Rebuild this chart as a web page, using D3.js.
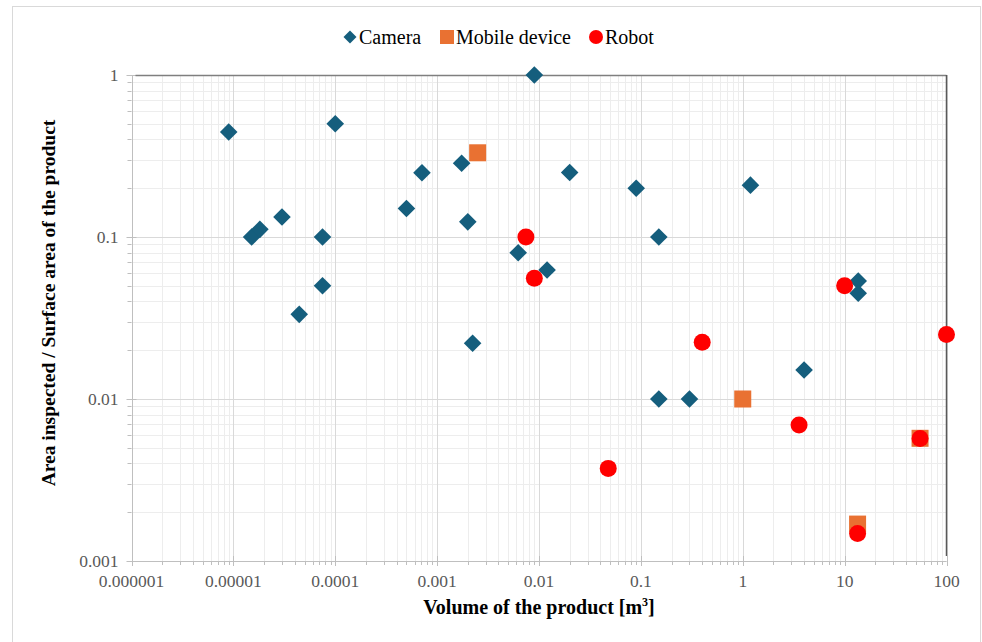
<!DOCTYPE html>
<html>
<head>
<meta charset="utf-8">
<script src="https://cdn.jsdelivr.net/npm/d3@7"></script>
<style>
  body { margin: 0; background: #fff; }
  svg { display: block; font-family: "Liberation Serif", "Times New Roman", serif; }
</style>
</head>
<body>
<svg id="chart"></svg>
<script>
// values
const cameraX = [0.000009, 0.0001, 0.0000151, 0.0000182, 0.00003, 0.000075, 0.000075, 0.0000443,
  0.0005, 0.00071, 0.00174, 0.002, 0.009, 0.02, 0.09, 0.15, 0.00625, 0.012, 0.00223,
  0.15, 0.3, 1.19, 13.6, 13.6, 4.0]
const cameraY = [0.445, 0.5, 0.1, 0.1115, 0.133, 0.1, 0.05, 0.0333,
  0.15, 0.249, 0.285, 0.124, 1, 0.25, 0.2, 0.1, 0.08, 0.0625, 0.0221,
  0.01, 0.01, 0.209, 0.0535, 0.045, 0.0151]

const mobileX = [0.0025, 1, 13.4, 55]
const mobileY = [0.331, 0.01, 0.00169, 0.00572]

const robotX = [0.00744, 0.009, 0.4, 0.0478, 3.57, 10, 100, 55, 13.4]
const robotY = [0.1, 0.0556, 0.0224, 0.00373, 0.0069, 0.05, 0.025, 0.0057, 0.00148]

const xTicks = [0.000001, 0.00001, 0.0001, 0.001, 0.01, 0.1, 1, 10, 100]
const xTickLabels = ["0.000001", "0.00001", "0.0001", "0.001", "0.01", "0.1", "1", "10", "100"]
const yTicks = [0.001, 0.01, 0.1, 1]
const yTickLabels = ["0.001", "0.01", "0.1", "1"]

const seriesNames = ["Camera", "Mobile device", "Robot"]
const seriesColors = ["#155E7D", "#E97132", "#FF0000"]

var width = 982
var height = 642
var margin = { top: 75, right: 36, bottom: 81, left: 131.5 }

var svg = d3.select('#chart')
    .attr('width', width)
    .attr('height', height)

// outer chart border
svg.append('rect')
    .attr('x', 12.5).attr('y', 6.5)
    .attr('width', 968).attr('height', 640)
    .attr('fill', 'none')
    .attr('stroke', '#d9d9d9')

var x_scale = d3.scaleLog()
    .domain([xTicks[0], xTicks[xTicks.length - 1]])
    .range([margin.left, width - margin.right + 0.5])

var y_scale = d3.scaleLog()
    .domain([yTicks[0], yTicks[yTicks.length - 1]])
    .range([height - margin.bottom, margin.top])

// minor values (2..9 of each decade)
var xMinor = []
for (let i = 0; i < xTicks.length - 1; i++) {
    for (let k = 2; k <= 9; k++) xMinor.push(xTicks[i] * k)
}
var yMinor = []
for (let i = 0; i < yTicks.length - 1; i++) {
    for (let k = 2; k <= 9; k++) yMinor.push(yTicks[i] * k)
}

var grid = svg.append('g')
var x0 = x_scale.range()[0], x1 = x_scale.range()[1]
var y0 = y_scale.range()[0], y1 = y_scale.range()[1]

grid.selectAll('.xminor').data(xMinor).enter().append('line')
    .attr('x1', d => Math.round(x_scale(d)) + 0.5).attr('x2', d => Math.round(x_scale(d)) + 0.5)
    .attr('y1', y1).attr('y2', y0)
    .attr('stroke', '#ededed')
grid.selectAll('.yminor').data(yMinor).enter().append('line')
    .attr('y1', d => Math.round(y_scale(d)) + 0.5).attr('y2', d => Math.round(y_scale(d)) + 0.5)
    .attr('x1', x0).attr('x2', x1)
    .attr('stroke', '#ededed')
grid.selectAll('.xmajor').data(xTicks).enter().append('line')
    .attr('x1', d => Math.round(x_scale(d)) + 0.5).attr('x2', d => Math.round(x_scale(d)) + 0.5)
    .attr('y1', y1).attr('y2', y0)
    .attr('stroke', '#d9d9d9')
grid.selectAll('.ymajor').data(yTicks).enter().append('line')
    .attr('y1', d => Math.round(y_scale(d)) + 0.5).attr('y2', d => Math.round(y_scale(d)) + 0.5)
    .attr('x1', x0).attr('x2', x1)
    .attr('stroke', '#d9d9d9')

// axes: minor ticks outside, major ticks crossing
var axisColor = '#bfbfbf'
var xAxisG = svg.append('g')
xAxisG.append('line')
    .attr('x1', x0).attr('x2', x1)
    .attr('y1', Math.round(y0) + 0.5).attr('y2', Math.round(y0) + 0.5)
    .attr('stroke', axisColor)
xAxisG.selectAll('.xmt').data(xMinor).enter().append('line')
    .attr('x1', d => Math.round(x_scale(d)) + 0.5).attr('x2', d => Math.round(x_scale(d)) + 0.5)
    .attr('y1', y0).attr('y2', y0 + 4)
    .attr('stroke', axisColor)
xAxisG.selectAll('.xMt').data(xTicks).enter().append('line')
    .attr('x1', d => Math.round(x_scale(d)) + 0.5).attr('x2', d => Math.round(x_scale(d)) + 0.5)
    .attr('y1', y0 - 5).attr('y2', y0 + 5)
    .attr('stroke', axisColor)
xAxisG.selectAll('.xlab').data(xTicks).enter().append('text')
    .attr('x', d => x_scale(d))
    .attr('y', y0 + 26)
    .attr('text-anchor', 'middle')
    .attr('font-size', 17.5)
    .attr('fill', '#595959')
    .text((d, i) => xTickLabels[i])

var yAxisG = svg.append('g')
yAxisG.append('line')
    .attr('x1', Math.round(x0) + 0.5).attr('x2', Math.round(x0) + 0.5)
    .attr('y1', y1).attr('y2', y0)
    .attr('stroke', axisColor)
yAxisG.selectAll('.ymt').data(yMinor).enter().append('line')
    .attr('y1', d => Math.round(y_scale(d)) + 0.5).attr('y2', d => Math.round(y_scale(d)) + 0.5)
    .attr('x1', x0 - 4).attr('x2', x0)
    .attr('stroke', axisColor)
yAxisG.selectAll('.yMt').data(yTicks).enter().append('line')
    .attr('y1', d => Math.round(y_scale(d)) + 0.5).attr('y2', d => Math.round(y_scale(d)) + 0.5)
    .attr('x1', x0 - 5).attr('x2', x0 + 5)
    .attr('stroke', axisColor)
yAxisG.selectAll('.ylab').data(yTicks).enter().append('text')
    .attr('x', x0 - 13)
    .attr('y', d => y_scale(d))
    .attr('dy', '0.35em')
    .attr('text-anchor', 'end')
    .attr('font-size', 17.5)
    .attr('fill', '#595959')
    .text((d, i) => yTickLabels[i])

// top and right border of plot area (dark)
svg.append('line')
    .attr('x1', x0 + 4).attr('x2', x1)
    .attr('y1', Math.round(y1) + 0.5).attr('y2', Math.round(y1) + 0.5)
    .attr('stroke', '#7f7f7f').attr('stroke-width', 1.5)
svg.append('line')
    .attr('x1', Math.round(x1) - 0.5).attr('x2', Math.round(x1) - 0.5)
    .attr('y1', y1).attr('y2', y0 - 5)
    .attr('stroke', '#595959').attr('stroke-width', 1.5)

// axis titles
var xTitle = svg.append('text')
    .attr('x', (x0 + x1) / 2)
    .attr('y', 614)
    .attr('text-anchor', 'middle')
    .attr('font-size', 20)
    .attr('font-weight', 'bold')
    .attr('fill', '#000')
xTitle.append('tspan').text('Volume of the product [m')
xTitle.append('tspan').attr('font-size', 12).attr('dy', -8).text('3')
xTitle.append('tspan').attr('dy', 8).text(']')

svg.append('text')
    .attr('transform', 'translate(55,' + ((y0 + y1) / 2 - 15) + ') rotate(-90)')
    .attr('text-anchor', 'middle')
    .attr('font-size', 19.5)
    .attr('font-weight', 'bold')
    .attr('fill', '#000')
    .text('Area inspected / Surface area of the product')

// markers
var plot = svg.append('g')
var diamond = 8.8
plot.selectAll('.cam').data(cameraX).enter().append('path')
    .attr('d', (d, i) => {
        let cx = x_scale(d), cy = y_scale(cameraY[i])
        return `M${cx},${cy - diamond}L${cx + diamond},${cy}L${cx},${cy + diamond}L${cx - diamond},${cy}Z`
    })
    .attr('fill', seriesColors[0])

var sq = 17
plot.selectAll('.mob').data(mobileX).enter().append('rect')
    .attr('x', d => x_scale(d) - sq / 2)
    .attr('y', (d, i) => y_scale(mobileY[i]) - sq / 2)
    .attr('width', sq).attr('height', sq)
    .attr('fill', seriesColors[1])

plot.selectAll('.rob').data(robotX).enter().append('circle')
    .attr('cx', d => x_scale(d))
    .attr('cy', (d, i) => y_scale(robotY[i]))
    .attr('r', 8.5)
    .attr('fill', seriesColors[2])

// legend
var legend = svg.append('g').attr('font-size', 20).attr('fill', '#000')
var legendX = [350, 447, 596]
var ly = 37
legend.append('path')
    .attr('d', `M${legendX[0]},${ly - 6.5}L${legendX[0] + 6.5},${ly}L${legendX[0]},${ly + 6.5}L${legendX[0] - 6.5},${ly}Z`)
    .attr('fill', seriesColors[0])
legend.append('rect')
    .attr('x', legendX[1] - 7).attr('y', ly - 7)
    .attr('width', 14).attr('height', 14)
    .attr('fill', seriesColors[1])
legend.append('circle')
    .attr('cx', legendX[2]).attr('cy', ly).attr('r', 7)
    .attr('fill', seriesColors[2])
seriesNames.forEach((name, i) => {
    legend.append('text')
        .attr('x', legendX[i] + 9)
        .attr('y', ly)
        .attr('dy', '0.35em')
        .text(name)
})
</script>
</body>
</html>
